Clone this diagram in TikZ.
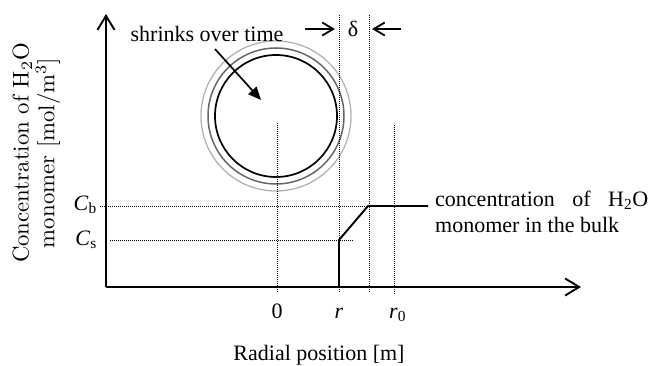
\documentclass[tikz,border=0pt]{standalone}
\usepackage{fontspec}
\usepackage{graphicx}
\newfontfamily\tnr{Liberation Serif}
\usetikzlibrary{arrows.meta}
\tikzset{
  txt/.style={inner sep=0pt, font=\tnr\fontsize{22}{26}\selectfont},
  axis/.style={line width=1.9pt},
  guide/.style={line width=0.9pt, dash pattern=on 1pt off 1pt},
  profile/.style={line width=1.9pt},
  bigtip/.style={-{Straight Barb[length=14pt,width=17pt,line width=1.9pt]}},
  smalltip/.style={-{Straight Barb[length=11pt,width=13pt,line width=1.8pt]}, line width=1.8pt},
}
\begin{document}
\begin{tikzpicture}[x=1pt,y=-1pt]
\useasboundingbox (0,0) rectangle (650,366);
% axes
\coordinate (O) at (106,287);
\coordinate (ytop) at (106,14);
\coordinate (xend) at (581,287);
\draw[axis,bigtip] (O) -- (ytop);
\draw[axis,bigtip] (O) -- (xend);
% circles
\coordinate (c) at (276,116);
\draw[line width=1.3pt, black!30] (c) circle[radius=75];
\draw[line width=1.5pt, black!60] (c) circle[radius=68];
\draw[line width=1.7pt, black] (c) circle[radius=61];
% guides
\coordinate (z1) at (277,123); \coordinate (z2) at (277,293);
\coordinate (r1) at (339,15);  \coordinate (r2) at (339,293);
\coordinate (d1) at (369,15);  \coordinate (d2) at (369,293);
\coordinate (q1) at (394,125); \coordinate (q2) at (394,295);
\coordinate (b1) at (100,206); \coordinate (b2) at (370,206);
\coordinate (s1) at (110,240); \coordinate (s2) at (353,240);
\draw[guide] (z1) -- (z2);
\draw[guide] (r1) -- (r2);
\draw[guide] (d1) -- (d2);
\draw[guide] (q1) -- (q2);
\draw[guide] (b1) -- (b2);
\draw[guide] (s1) -- (s2);
% profile
\coordinate (p0) at (339,287);
\coordinate (p1) at (339,240);
\coordinate (p2) at (368,206);
\coordinate (p3) at (428,206);
\draw[profile, line join=round] (p0) -- (p1) -- (p2) -- (p3);
% delta
\node[txt] (delta) at (353,29) {δ};
\coordinate (la) at (305,29); \coordinate (lb) at (335,29);
\coordinate (ra) at (401,29); \coordinate (rb) at (372,29);
\draw[smalltip] (la) -- (lb);
\draw[smalltip] (ra) -- (rb);
% shrink
\node[txt, anchor=base] (shrink) at (207,42) {shrinks over time};
\coordinate (sa) at (215,49); \coordinate (sb) at (261,100);
\draw[line width=1.7pt, -{Triangle[length=13pt,width=11pt]}] (sa) -- (sb);
% tick labels
\node[txt, anchor=base] (t0) at (277,318) {0};
\node[txt, anchor=base] (tr) at (339,318) {\textit{r}};
\node[txt, anchor=base west] (tr0) at (389,318) {\textit{r}\textsubscript{0}};
\node[txt, anchor=base east] (cb) at (97,210) {\textit{C}\textsubscript{b}};
\node[txt, anchor=base east] (cs) at (97,245) {\textit{C}\textsubscript{s}};
% axis titles
\node[txt, anchor=base] (xlab) at (319,360) {Radial position [m]};
\node[inner sep=0pt, rotate=90] (ylab) at (37,153)
  {\scalebox{2.28}{\fontsize{10}{10.1}\selectfont\begin{tabular}{@{}c@{}}Concentration of H\textsubscript{2}O\\ monomer [mol/m\textsuperscript{3}]\end{tabular}}};
% bulk text
\node[txt, anchor=base west] (bulk1) at (435,206) {\makebox[213pt][s]{concentration of H\textsubscript{2}O}};
\node[txt, anchor=base west] (bulk2) at (435,232) {monomer in the bulk};
\end{tikzpicture}
\end{document}
